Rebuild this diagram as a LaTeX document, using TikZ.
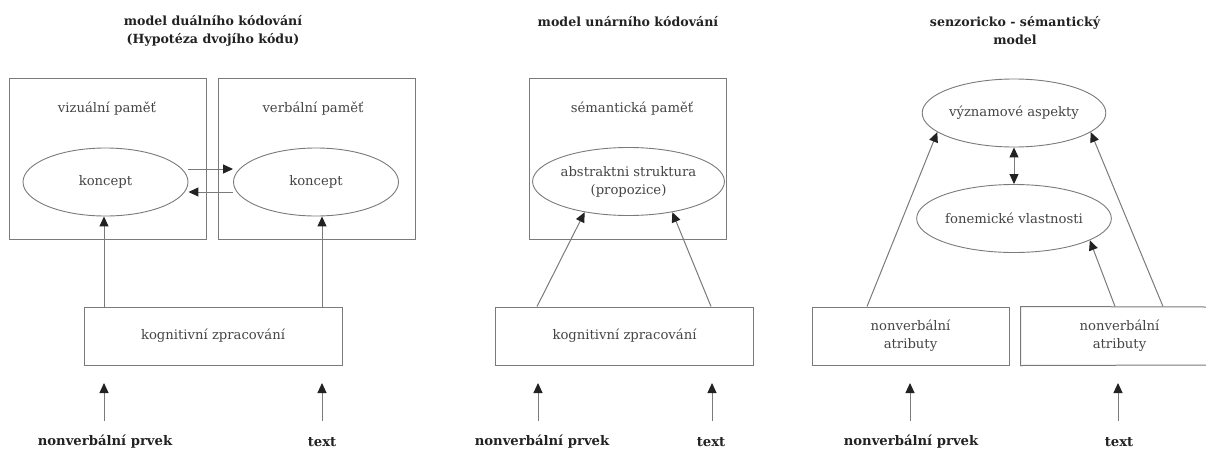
\documentclass[tikz,border=0pt]{standalone}
\usepackage{fontspec}
\setmainfont{DejaVu Serif}
\usetikzlibrary{shapes.geometric,arrows.meta}
\definecolor{linegray}{HTML}{7A7A7A}
\definecolor{txtgray}{HTML}{444444}
\definecolor{headdark}{HTML}{222222}
\tikzset{
  every node/.style={font=\fontsize{13.2}{18}\selectfont, text=txtgray},
  membox/.style={draw=linegray, line width=1pt, minimum width=197pt, minimum height=161pt, inner sep=0pt},
  procbox/.style={draw=linegray, line width=1pt, minimum width=258pt, minimum height=58pt, inner sep=0pt},
  attrbox/.style={draw=linegray, line width=1pt, minimum width=197pt, minimum height=58pt, inner sep=0pt, align=center},
  concept/.style={draw=linegray, line width=0.9pt, ellipse, minimum width=165pt, minimum height=68pt, inner sep=0pt, align=center},
  title/.style={font=\bfseries\fontsize{12.6}{18}\selectfont, text=headdark, align=center},
  inlabel/.style={font=\bfseries\fontsize{13.2}{16}\selectfont, text=headdark},
  arr/.style={draw=linegray, line width=1pt, -{Triangle[length=10pt,width=9pt,fill=headdark,color=headdark]}},
  darr/.style={draw=linegray, line width=1pt, {Triangle[length=10pt,width=9pt,fill=headdark,color=headdark]}-{Triangle[length=10pt,width=9pt,fill=headdark,color=headdark]}},
}
\begin{document}
\begin{tikzpicture}[x=1pt,y=-1pt]
\useasboundingbox (0,0) rectangle (1206,450);

% ---------- panel 1 ----------
\node[title] (t1) at (213,31) {model duálního kódování\\(Hypotéza dvojího kódu)};
\node[membox] (mv) at (107.5,158.5) {};
\node[membox] (mw) at (316.5,158.5) {};
\node (mvl) at (107,109) {vizuální paměť};
\node (mwl) at (313,109) {verbální paměť};
\node[concept] (ev) at (105.5,182) {koncept};
\node[concept] (ew) at (316,182) {koncept};
\node[procbox] (k1) at (213,336) {kognitivní zpracování};
\node[inlabel] (l1a) at (105,442) {nonverbální prvek};
\node[inlabel] (l1b) at (322,442) {text};
\draw[arr] ([yshift=13pt]ev.east) -- ([yshift=13pt]ew.west);
\draw[arr] ([yshift=-10pt]ew.west) -- ([yshift=-10pt]ev.east);
\draw[arr] (k1.north -| 104,0) -- (ev.south -| 104,0);
\draw[arr] (k1.north -| 322,0) -- (ew.south -| 322,0);
\coordinate (s1a) at (104,421); \coordinate (f1a) at (104,383);
\coordinate (s1b) at (322,421); \coordinate (f1b) at (322,383);
\draw[arr] (s1a) -- (f1a);
\draw[arr] (s1b) -- (f1b);

% ---------- panel 2 ----------
\node[title] (t2) at (628,22) {model unárního kódování};
\node[membox] (ms) at (627.5,159) {};
\node (msl) at (632,109) {sémantická paměť};
\node[concept] (e2) at (628.5,181.5) {abstraktni struktura\\(propozice)};
\node[procbox] (k2) at (624.5,336) {kognitivní zpracování};
\node[inlabel] (l2a) at (542,442) {nonverbální prvek};
\node[inlabel] (l2b) at (711,442) {text};
\draw[arr] (k2.north -| 537,0) -- (e2.215);
\draw[arr] (k2.north -| 711,0) -- (e2.325);
\coordinate (s2a) at (538,421); \coordinate (f2a) at (538,383);
\coordinate (s2b) at (712,421); \coordinate (f2b) at (712,383);
\draw[arr] (s2a) -- (f2a);
\draw[arr] (s2b) -- (f2b);

% ---------- panel 3 ----------
\node[title] (t3) at (1015,31) {senzoricko - sémantický\\model};
\node[concept] (ea) at (1014,113) {významové aspekty};
\node[concept] (eb) at (1014,218.5) {fonemické vlastnosti};
\node[attrbox] (na1) at (910.5,336) {nonverbální\\atributy};
\node[attrbox, draw=none] (na2) at (1119.5,336) {nonverbální\\atributy};
\draw[draw=linegray, line width=1pt] (1206,307) -- (na2.north west) -- (na2.south west) -- (1206,365);
\node[inlabel] (l3a) at (911,442) {nonverbální prvek};
\node[inlabel] (l3b) at (1119,442) {text};
\draw[darr] (ea.south) -- (eb.north);
\draw[arr] (na1.north -| 867,0) -- (ea.194);
\draw[arr] (na2.north -| 1163,0) -- (ea.346);
\draw[arr] (na2.north -| 1115,0) -- (eb.344);
\coordinate (s3a) at (910,421); \coordinate (f3a) at (910,383);
\coordinate (s3b) at (1118,421); \coordinate (f3b) at (1118,383);
\draw[arr] (s3a) -- (f3a);
\draw[arr] (s3b) -- (f3b);
\end{tikzpicture}
\end{document}
